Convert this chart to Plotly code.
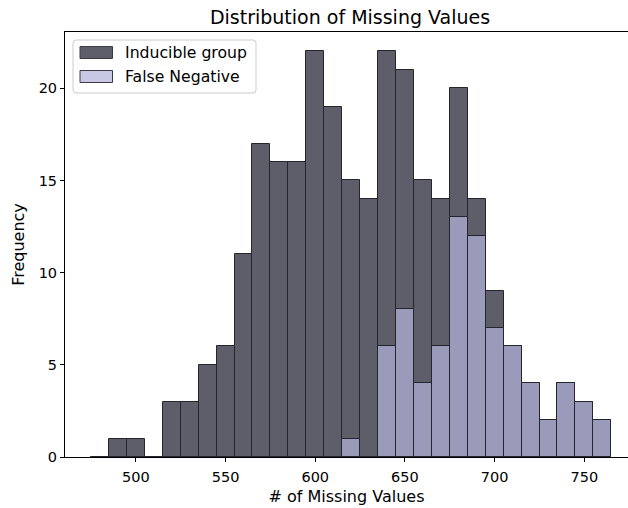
import plotly.graph_objects as go

# Histogram bins (left edges, width 10) and counts per group
bin_lefts = [475, 485, 495, 505, 515, 525, 535, 545, 555, 565, 575, 585, 595, 605, 615,
             625, 635, 645, 655, 665, 675, 685, 695, 705, 715, 725, 735, 745, 755]
bin_width = 10
inducible_counts = [0, 1, 1, 0, 3, 3, 5, 6, 11, 17, 16, 16, 22, 19, 15,
                    14, 22, 21, 15, 14, 20, 14, 9, 6, 4, 2, 4, 3, 2]
false_neg_counts = [0, 0, 0, 0, 0, 0, 0, 0, 0, 0, 0, 0, 0, 0, 1,
                    0, 6, 8, 4, 6, 13, 12, 7, 6, 4, 2, 4, 3, 2]
x_ticks = [500, 550, 600, 650, 700, 750]
y_ticks = [0, 5, 10, 15, 20]
series_names = ["Inducible group", "False Negative"]

DARK = "#5e5e6a"
LIGHT_BAR = "#9a9aba"
LIGHT_PATCH = "#c8c8e4"
EDGE = "#25252d"
FONT = "DejaVu Sans"

W, H = 628, 508
L, R, T, B = 65, 0, 32, 51
PW, PH = W - L - R, H - T - B

centers = [b + bin_width / 2 for b in bin_lefts]

fig = go.Figure()
fig.add_trace(go.Bar(x=centers, y=inducible_counts, width=bin_width,
                     marker=dict(color=DARK, line=dict(color=EDGE, width=1)),
                     name=series_names[0], showlegend=False))
fig.add_trace(go.Bar(x=centers, y=false_neg_counts, width=bin_width,
                     marker=dict(color=LIGHT_BAR, line=dict(color=EDGE, width=1)),
                     name=series_names[1], showlegend=False))


def fx(px):
    return (px - L) / PW


def fy(py):
    return (T + PH - py) / PH


shapes = []
annotations = []

# legend frame with rounded corners
x0, x1, y0, y1 = fx(73), fx(256), fy(93), fy(40)
rx, ry = 3 / PW, 3 / PH
path = (f"M {x0+rx},{y0} L {x1-rx},{y0} Q {x1},{y0} {x1},{y0+ry} "
        f"L {x1},{y1-ry} Q {x1},{y1} {x1-rx},{y1} L {x0+rx},{y1} "
        f"Q {x0},{y1} {x0},{y1-ry} L {x0},{y0+ry} Q {x0},{y0} {x0+rx},{y0} Z")
shapes.append(dict(type="path", xref="paper", yref="paper", path=path,
                   fillcolor="rgba(255,255,255,0.8)", line=dict(color="#cccccc", width=1)))

for i, (name, col, yc) in enumerate(zip(series_names, [DARK, LIGHT_PATCH], [52.5, 76.5])):
    shapes.append(dict(type="rect", xref="paper", yref="paper",
                       x0=fx(80), x1=fx(112.5), y0=fy(yc + 6), y1=fy(yc - 6),
                       fillcolor=col, line=dict(color="#3c3c46", width=1)))
    annotations.append(dict(xref="paper", yref="paper", x=fx(123), y=fy(yc),
                            xanchor="left", yanchor="middle", text=name, showarrow=False,
                            font=dict(family=FONT, size=15.7, color="#000000")))

fig.update_layout(
    width=W, height=H,
    margin=dict(l=L, r=R, t=T, b=B, pad=0),
    paper_bgcolor="white", plot_bgcolor="white",
    barmode="overlay", bargap=0,
    font=dict(family=FONT, size=14.5, color="#000000"),
    title=dict(text="Distribution of Missing Values", xref="paper", x=fx(350),
               xanchor="center", yref="container", y=1 - 17 / H, yanchor="middle",
               font=dict(family=FONT, size=19, color="#000000")),
    xaxis=dict(range=[460.5, 460.5 + PW / 1.794], tickvals=x_ticks,
               ticks="outside", ticklen=4, tickcolor="black", tickwidth=1,
               ticklabelstandoff=3,
               showline=True, linecolor="black", linewidth=1, mirror=True,
               showgrid=False, zeroline=False,
               tickfont=dict(family=FONT, size=14.5),
               title=dict(text="# of Missing Values", standoff=6,
                          font=dict(family=FONT, size=16))),
    yaxis=dict(range=[0, 23.05], tickvals=y_ticks,
               ticks="outside", ticklen=4, tickcolor="black", tickwidth=1,
               showline=True, linecolor="black", linewidth=1, mirror=False,
               showgrid=False, zeroline=False,
               tickfont=dict(family=FONT, size=14.5),
               title=dict(text="Frequency", standoff=10,
                          font=dict(family=FONT, size=16))),
    shapes=shapes,
    annotations=annotations,
)

fig.write_html("out.html")
